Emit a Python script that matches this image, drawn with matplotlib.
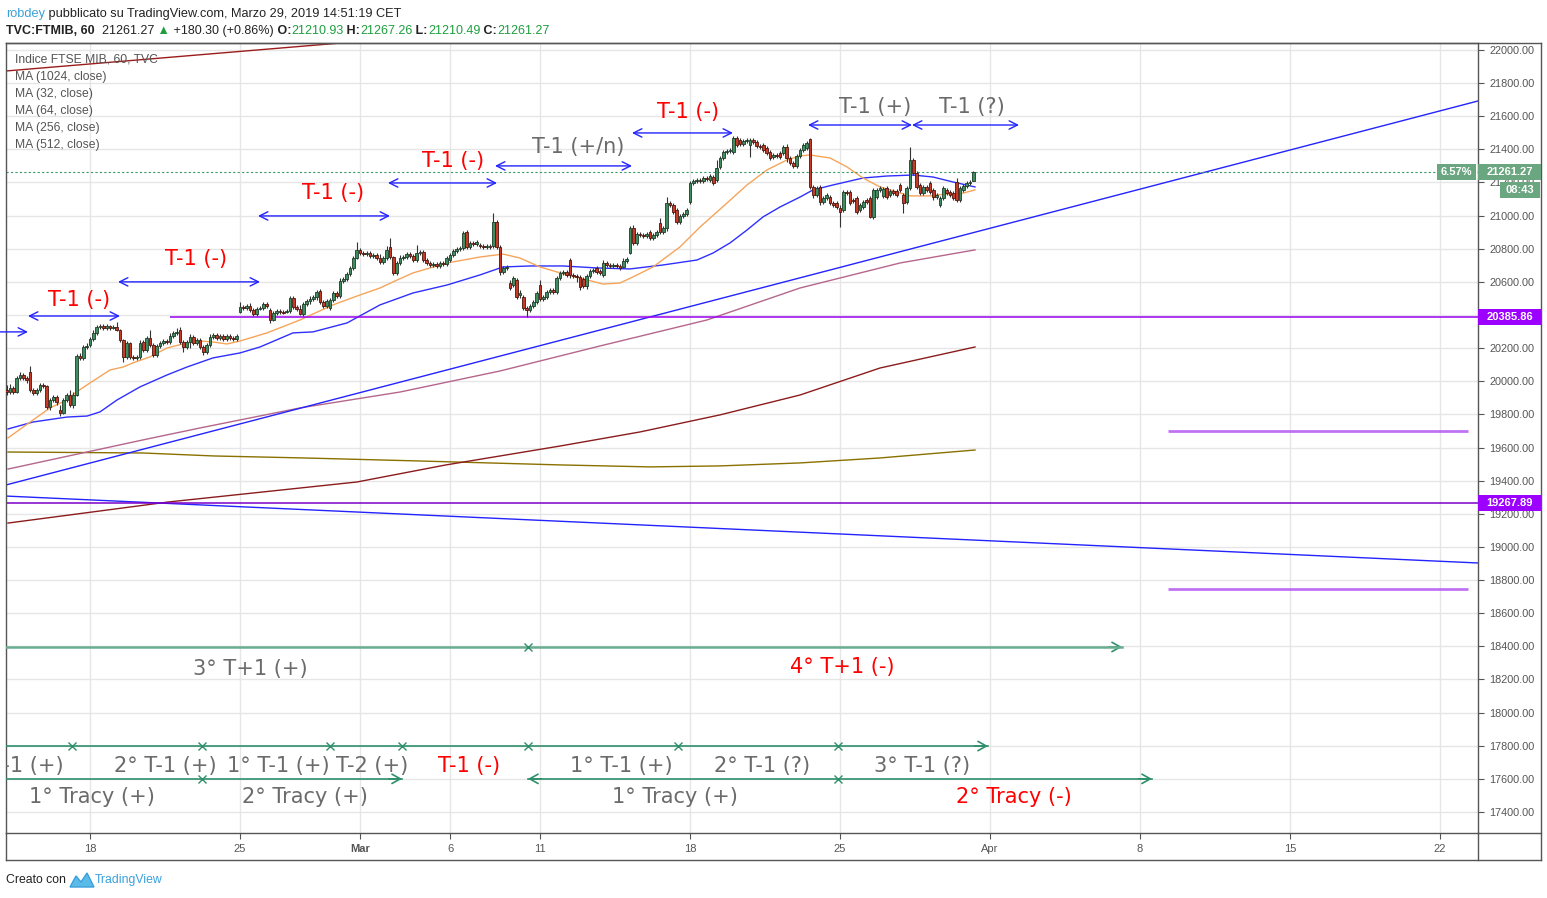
import numpy as np
import matplotlib.pyplot as plt
import matplotlib.transforms as mtransforms
from matplotlib.lines import Line2D
from matplotlib.patches import Rectangle, Polygon

# FTSE MIB 60 min bars, bar 0 = 18 Feb 09:00, 9 bars per session
first_bar = -25
bars_per_day = 9

bar_open = [
    19947, 19935, 19960, 19935, 20020, 20038, 20020,                 # Feb 13 (part)
    20056, 19947, 19929, 19947, 19978, 19972, 19845, 19887, 19905,   # Feb 14
    19827, 19809, 19887, 19917, 19857, 19917, 20153, 20141, 20207,   # Feb 15
    20219, 20255, 20292, 20328, 20334, 20322, 20334, 20322, 20328,   # Feb 18
    20310, 20249, 20147, 20231, 20147, 20141, 20147, 20237, 20189,   # Feb 19
    20261, 20219, 20159, 20213, 20231, 20243, 20237, 20274, 20292,   # Feb 20
    20310, 20237, 20207, 20237, 20267, 20231, 20249, 20207, 20177,   # Feb 21
    20219, 20267, 20280, 20261, 20274, 20255, 20274, 20261, 20255,   # Feb 22
    20418, 20449, 20443, 20455, 20430, 20406, 20437, 20443, 20467,   # Feb 25
    20430, 20370, 20412, 20424, 20418, 20418, 20424, 20503, 20449,   # Feb 26
    20437, 20406, 20467, 20485, 20497, 20509, 20545, 20479, 20455,   # Feb 27
    20443, 20491, 20533, 20515, 20606, 20618, 20648, 20684, 20744,   # Feb 28
    20793, 20774, 20768, 20774, 20756, 20762, 20744, 20720, 20744,   # Mar 1
    20811, 20750, 20654, 20714, 20744, 20750, 20768, 20756, 20732,   # Mar 4
    20774, 20781, 20732, 20714, 20702, 20708, 20696, 20714, 20708,   # Mar 5
    20732, 20762, 20787, 20799, 20805, 20901, 20811, 20835, 20829,   # Mar 6
    20823, 20817, 20811, 20817, 20817, 20962, 20811, 20660, 20684,   # Mar 7
    20593, 20581, 20612, 20521, 20509, 20443, 20430, 20455, 20479,   # Mar 8
    20581, 20497, 20509, 20539, 20551, 20539, 20624, 20654, 20660,   # Mar 11
    20732, 20642, 20636, 20630, 20618, 20575, 20636, 20666, 20684,   # Mar 12
    20666, 20642, 20714, 20702, 20696, 20702, 20696, 20690, 20726,   # Mar 13
    20774, 20925, 20835, 20889, 20883, 20877, 20901, 20865, 20883,   # Mar 14
    20956, 20901, 20925, 21076, 21064, 21034, 20962, 20998, 21010,   # Mar 15
    21082, 21197, 21209, 21215, 21209, 21227, 21215, 21233, 21215,   # Mar 18
    21294, 21348, 21384, 21390, 21384, 21469, 21457, 21433, 21451,   # Mar 19
    21426, 21457, 21445, 21420, 21426, 21408, 21384, 21354, 21366,   # Mar 20
    21378, 21378, 21414, 21348, 21318, 21300, 21360, 21396, 21408,   # Mar 21
    21463, 21173, 21125, 21173, 21082, 21106, 21112, 21076, 21076,   # Mar 22
    21046, 21034, 21143, 21143, 21094, 21106, 21034, 21052, 21094,   # Mar 25
    21106, 20992, 21112, 21155, 21119, 21167, 21125, 21149, 21149,   # Mar 26
    21185, 21125, 21082, 21167, 21336, 21257, 21185, 21137, 21173,   # Mar 27
    21197, 21155, 21112, 21064, 21106, 21155, 21143, 21137, 21203,   # Mar 28
    21094, 21155, 21179, 21197, 21210.93,                            # Mar 29
]
bar_close = [
    19935, 19960, 19935, 20020, 20038, 20020, 20008,
    19947, 19929, 19947, 19978, 19972, 19845, 19887, 19905, 19875,
    19809, 19887, 19917, 19857, 19917, 20153, 20141, 20207, 20213,
    20255, 20292, 20328, 20334, 20322, 20334, 20322, 20328, 20310,
    20249, 20147, 20231, 20147, 20141, 20147, 20231, 20189, 20261,
    20219, 20159, 20213, 20231, 20243, 20237, 20274, 20292, 20298,
    20237, 20207, 20237, 20267, 20231, 20249, 20207, 20177, 20219,
    20267, 20280, 20261, 20274, 20255, 20274, 20261, 20255, 20274,
    20449, 20443, 20455, 20430, 20406, 20437, 20443, 20467, 20455,
    20370, 20412, 20424, 20418, 20412, 20424, 20503, 20449, 20437,
    20406, 20467, 20485, 20497, 20509, 20539, 20479, 20455, 20485,
    20491, 20533, 20515, 20606, 20618, 20648, 20684, 20744, 20793,
    20774, 20768, 20774, 20756, 20762, 20744, 20720, 20744, 20793,
    20750, 20654, 20714, 20744, 20750, 20768, 20756, 20732, 20774,
    20781, 20732, 20714, 20702, 20708, 20696, 20714, 20708, 20744,
    20762, 20787, 20799, 20805, 20895, 20811, 20835, 20829, 20841,
    20817, 20811, 20817, 20811, 20962, 20811, 20660, 20684, 20690,
    20563, 20624, 20509, 20533, 20443, 20430, 20455, 20479, 20533,
    20497, 20509, 20539, 20551, 20539, 20624, 20654, 20660, 20642,
    20642, 20636, 20630, 20569, 20575, 20636, 20666, 20672, 20660,
    20654, 20714, 20702, 20696, 20702, 20696, 20684, 20726, 20738,
    20925, 20835, 20889, 20883, 20877, 20889, 20865, 20883, 20901,
    20901, 20925, 21076, 21064, 21022, 20962, 20998, 21010, 21034,
    21197, 21209, 21215, 21209, 21227, 21221, 21239, 21197, 21288,
    21348, 21384, 21390, 21396, 21469, 21426, 21433, 21451, 21457,
    21457, 21445, 21420, 21414, 21396, 21378, 21348, 21366, 21360,
    21354, 21414, 21348, 21318, 21300, 21360, 21396, 21426, 21439,
    21173, 21125, 21167, 21082, 21106, 21125, 21076, 21064, 21052,
    21022, 21143, 21137, 21076, 21088, 21022, 21064, 21082, 21082,
    20992, 21155, 21155, 21167, 21161, 21112, 21149, 21137, 21125,
    21155, 21076, 21167, 21336, 21257, 21173, 21137, 21173, 21155,
    21143, 21112, 21125, 21106, 21167, 21137, 21125, 21106, 21094,
    21167, 21179, 21197, 21203, 21261.27,
]
bar_high = [
    19978, 19984, 19972, 20032, 20056, 20050, 20032,
    20092, 19960, 19960, 19990, 19990, 19978, 19899, 19917, 19917,
    19857, 19899, 19929, 19947, 19935, 20165, 20171, 20219, 20231,
    20267, 20310, 20340, 20346, 20346, 20346, 20340, 20340, 20358,
    20316, 20255, 20243, 20237, 20159, 20159, 20249, 20249, 20274,
    20310, 20231, 20225, 20243, 20255, 20255, 20292, 20304, 20322,
    20328, 20249, 20249, 20286, 20280, 20261, 20261, 20219, 20231,
    20286, 20292, 20292, 20286, 20286, 20286, 20286, 20274, 20286,
    20479, 20461, 20467, 20473, 20443, 20449, 20455, 20479, 20479,
    20443, 20424, 20437, 20437, 20430, 20437, 20515, 20515, 20461,
    20461, 20479, 20497, 20515, 20521, 20551, 20557, 20491, 20497,
    20503, 20545, 20545, 20624, 20630, 20660, 20696, 20756, 20841,
    20805, 20787, 20787, 20787, 20774, 20774, 20768, 20756, 20817,
    20865, 20756, 20726, 20762, 20762, 20781, 20781, 20768, 20823,
    20793, 20793, 20744, 20726, 20720, 20720, 20726, 20726, 20756,
    20774, 20799, 20811, 20817, 20907, 20913, 20847, 20847, 20853,
    20835, 20829, 20829, 20829, 21016, 20974, 20823, 20696, 20702,
    20612, 20636, 20624, 20551, 20521, 20455, 20467, 20491, 20545,
    20612, 20521, 20551, 20563, 20563, 20636, 20666, 20672, 20672,
    20744, 20654, 20648, 20642, 20630, 20648, 20678, 20684, 20696,
    20678, 20732, 20726, 20714, 20714, 20714, 20708, 20744, 20750,
    20937, 20944, 20901, 20901, 20895, 20901, 20913, 20895, 20913,
    20986, 20937, 21112, 21088, 21076, 21046, 21010, 21022, 21046,
    21209, 21221, 21227, 21227, 21239, 21239, 21251, 21245, 21336,
    21360, 21396, 21402, 21408, 21481, 21481, 21469, 21463, 21469,
    21469, 21469, 21457, 21433, 21439, 21420, 21396, 21378, 21378,
    21390, 21426, 21433, 21360, 21330, 21372, 21408, 21439, 21451,
    21469, 21185, 21179, 21185, 21119, 21137, 21125, 21088, 21088,
    21064, 21155, 21155, 21155, 21106, 21119, 21076, 21094, 21106,
    21119, 21167, 21167, 21179, 21173, 21179, 21161, 21161, 21161,
    21197, 21137, 21179, 21414, 21348, 21270, 21197, 21185, 21185,
    21209, 21167, 21137, 21119, 21179, 21167, 21155, 21149, 21227,
    21179, 21191, 21209, 21215, 21267.26,
]
bar_low = [
    19917, 19923, 19923, 19929, 20008, 20008, 19990,
    19935, 19917, 19917, 19935, 19960, 19833, 19827, 19875, 19857,
    19790, 19803, 19875, 19845, 19839, 19911, 20129, 20129, 20195,
    20207, 20243, 20280, 20316, 20310, 20310, 20310, 20316, 20304,
    20237, 20117, 20135, 20135, 20129, 20129, 20135, 20177, 20177,
    20207, 20147, 20147, 20201, 20219, 20225, 20225, 20261, 20280,
    20225, 20177, 20195, 20201, 20219, 20219, 20195, 20159, 20165,
    20207, 20255, 20249, 20249, 20243, 20243, 20249, 20243, 20243,
    20412, 20430, 20430, 20418, 20394, 20394, 20430, 20430, 20443,
    20352, 20364, 20400, 20406, 20406, 20412, 20412, 20437, 20424,
    20400, 20394, 20455, 20467, 20485, 20491, 20467, 20443, 20443,
    20430, 20479, 20503, 20503, 20593, 20606, 20636, 20672, 20738,
    20762, 20756, 20756, 20744, 20744, 20732, 20708, 20708, 20732,
    20738, 20642, 20642, 20702, 20732, 20738, 20744, 20720, 20720,
    20762, 20720, 20702, 20690, 20690, 20684, 20684, 20696, 20696,
    20720, 20750, 20774, 20787, 20793, 20799, 20799, 20817, 20817,
    20805, 20799, 20799, 20799, 20805, 20799, 20642, 20648, 20672,
    20551, 20569, 20497, 20503, 20430, 20388, 20418, 20443, 20467,
    20485, 20485, 20497, 20527, 20527, 20527, 20612, 20642, 20630,
    20624, 20624, 20600, 20551, 20563, 20557, 20624, 20654, 20648,
    20642, 20630, 20690, 20684, 20684, 20684, 20672, 20684, 20714,
    20768, 20823, 20823, 20871, 20865, 20865, 20853, 20853, 20871,
    20889, 20889, 20907, 21052, 21010, 20950, 20950, 20986, 20998,
    21070, 21185, 21197, 21197, 21197, 21209, 21203, 21185, 21203,
    21282, 21336, 21372, 21378, 21372, 21414, 21420, 21420, 21439,
    21354, 21433, 21408, 21402, 21384, 21366, 21336, 21342, 21348,
    21342, 21366, 21324, 21306, 21288, 21288, 21348, 21384, 21396,
    21161, 21106, 21112, 21064, 21070, 21094, 21064, 21052, 21040,
    20931, 21022, 21125, 21064, 21076, 21010, 21022, 21040, 21070,
    20986, 20980, 21100, 21143, 21106, 21100, 21112, 21125, 21112,
    21143, 21016, 21070, 21155, 21245, 21161, 21125, 21125, 21143,
    21131, 21094, 21100, 21052, 21094, 21125, 21112, 21094, 21082,
    21082, 21143, 21167, 21185, 21210.49,
]

# moving averages (bar index, value)
ma32_k = [-24.6, -17.1, -12, -6.9, -4.5, 0, 6, 9.9, 12.9, 18, 23.1, 29.1, 33, 36.9, 41.1, 45,
          53.1, 63, 72.9, 81, 87, 90.9, 96.9, 107.1, 117, 123.9, 129, 135, 143.1, 149.1, 153.9,
          159, 162.9, 168.9, 177, 183, 191.1, 197.1, 203.1, 209.1, 213, 216, 222, 227.1, 231.9,
          237, 243, 246, 252, 257.1, 261, 265.5]
ma32_v = [19658, 19766, 19839, 19887, 19929, 19990, 20068, 20086, 20111, 20147, 20201, 20231,
          20243, 20237, 20225, 20243, 20292, 20370, 20461, 20521, 20563, 20600, 20654, 20714,
          20750, 20768, 20744, 20690, 20642, 20612, 20587, 20593, 20630, 20690, 20811, 20931,
          21076, 21185, 21276, 21336, 21360, 21366, 21348, 21294, 21227, 21173, 21137, 21119,
          21119, 21131, 21131, 21155]
ma64_k = [-24.6, -17.1, -6.9, -0.9, 3, 8.1, 15, 23.1, 29.1, 36.9, 45, 51, 60.9, 66.9, 77.1, 87,
          96.9, 107.1, 117, 123.9, 132, 141.9, 152.1, 162, 171.9, 182.1, 186.9, 192, 197.1,
          201.9, 207, 213, 216.9, 222.9, 231.9, 239.1, 246.9, 252.9, 258.9, 265.5]
ma64_v = [19712, 19754, 19784, 19790, 19815, 19887, 19966, 20038, 20086, 20141, 20171, 20207,
          20292, 20298, 20352, 20461, 20533, 20581, 20642, 20690, 20696, 20696, 20684, 20678,
          20702, 20732, 20774, 20835, 20913, 20992, 21052, 21112, 21155, 21185, 21227, 21239,
          21245, 21233, 21203, 21173]
ma256_k = [-24.6, 15.9, 33, 63, 93, 123, 153, 185.1, 213, 243, 265.5]
ma256_v = [19470, 19646, 19718, 19839, 19935, 20062, 20213, 20370, 20563, 20714, 20793]
ma512_k = [-24.6, 23.4, 80.1, 106.8, 141, 165, 189, 213, 237, 265.5]
ma512_v = [19144, 19271, 19392, 19495, 19609, 19694, 19797, 19917, 20080, 20207]
ma1024_k = [-24.6, 15.9, 37.2, 64.2, 98.4, 141, 168, 189, 213, 237, 265.5]
ma1024_v = [19573, 19567, 19549, 19537, 19519, 19495, 19483, 19489, 19507, 19537, 19585]

# drawings
trend_up = ([-25.2, 416.4], [19374, 21692])
trend_down = ([-25.2, 416.4], [19307, 18903])
trend_top = ([-30, 80], [21865, 22050])
level_hi, level_hi_from = 20385.86, 24
level_lo = 19267.89
short_levels, short_from, short_to = [19700, 18745], 323.4, 413.4
last_price = 21261.27

arrow_k0 = [-18.6, 8.4, 50.4, 89.4, 121.5, 162.6, 215.4, 246.6]
arrow_k1 = [9, 51, 90, 122.1, 162.6, 192.9, 246.6, 278.7]
arrow_p = [20394, 20600, 20998, 21197, 21300, 21499, 21547, 21547]
top_k = [-3.3, 31.8, 72.9, 108.9, 146.4, 179.4, 235.5, 264.6]
top_p = [20491, 20738, 21137, 21330, 21414, 21626, 21656, 21656]
top_txt = ["T-1 (-)", "T-1 (-)", "T-1 (-)", "T-1 (-)", "T-1 (+/n)", "T-1 (-)", "T-1 (+)", "T-1 (?)"]
top_red = [True, True, True, True, False, True, False, False]

row1_p, row2_p, row3_p = 18396, 17798, 17600
row1_marks, row1_end = [-30, 131.4], 309.6
row2_marks, row2_end = [-30, -5.4, 33.6, 72, 93.6, 131.4, 176.4, 224.4], 269.4
row3a_marks, row3a_end = [-30, 33.6], 93.6
row3b_start, row3b_marks, row3b_end = 131.4, [224.4], 318.6

low_k = [48, 225.6, 22.5, 56.4, 84.6, 113.7, 159.3, 201.6, 249.6, 0.6, 64.5, 175.5, 277.2]
low_p = [18263, 18275, 17677, 17677, 17677, 17677, 17677, 17677, 17677, 17490, 17490, 17490, 17490]
low_txt = ["3° T+1 (+)", "4° T+1 (-)", "2° T-1 (+)", "1° T-1 (+)", "T-2 (+)", "T-1 (-)",
           "1° T-1 (+)", "2° T-1 (?)", "3° T-1 (?)", "1° Tracy (+)", "2° Tracy (+)",
           "1° Tracy (+)", "2° Tracy (-)"]
low_red = [False, True, False, False, False, True, False, False, False, False, False, False, True]

tick_days = [0, 5, 9, 12, 15, 20, 25, 30, 35, 40, 45]
tick_labels = ["18", "25", "Mar", "6", "11", "18", "25", "Apr", "8", "15", "22"]

W, H = 1547, 898
fig = plt.figure(figsize=(W / 100, H / 100), dpi=100)
fig.patch.set_facecolor("white")


def fx(x):
    return x / W


def fy(y):
    return 1 - y / H


SANS = ["Liberation Sans", "DejaVu Sans"]
GRAY = "#6b6b6b"
RED = "#ff0000"
BLUE = "#2323ff"
GREEN = "#2f8f6c"
FRAME = "#555555"

ax = fig.add_axes([fx(6), fy(833), fx(1478) - fx(6), fy(43) - fy(833)])
ax.set_xlim(-25.2, 416.4)
ax.set_ylim(17273, 22042)
ax.set_axisbelow(True)
ax.grid(True, color="#e6e6e6", lw=1)
for sp in ax.spines.values():
    sp.set_color(FRAME)
    sp.set_linewidth(1)

yt = np.arange(17400, 22001, 200)
ax.yaxis.tick_right()
ax.set_yticks(yt)
ax.set_yticklabels([f"{v:.2f}" for v in yt])
ax.set_xticks([d * bars_per_day for d in tick_days])
ax.set_xticklabels(tick_labels)
ax.tick_params(axis="y", length=4, color=FRAME, labelsize=7.8, labelcolor="#555555", pad=4)
ax.tick_params(axis="x", length=4, color=FRAME, labelsize=8, labelcolor="#555555", pad=4)
for lab in ax.get_yticklabels() + ax.get_xticklabels():
    lab.set_family(SANS)
ax.get_xticklabels()[2].set_fontweight("bold")

# moving averages
ax.plot(ma1024_k, ma1024_v, color="#8a7000", lw=1, zorder=2)
ax.plot(ma512_k, ma512_v, color="#8b1c1c", lw=1, zorder=2)
ax.plot(ma256_k, ma256_v, color="#b5668c", lw=1, zorder=2)
ax.plot(ma64_k, ma64_v, color="#2f2fff", lw=1, zorder=2)
ax.plot(ma32_k, ma32_v, color="#f5a55a", lw=1, zorder=2)

# trend lines and levels
ax.plot(*trend_up, color=BLUE, lw=1, zorder=2)
ax.plot(*trend_down, color=BLUE, lw=1, zorder=2)
ax.plot(*trend_top, color="#9b1c1c", lw=1, zorder=2)
ax.hlines(level_hi, level_hi_from, 416.4, color="#9a00f0", lw=1.1, zorder=2)
ax.axhline(level_lo, color="#7b00c8", lw=1.1, zorder=2)
ax.hlines(short_levels, short_from, short_to, color="#b050f0", lw=2, alpha=0.8, zorder=2)
ax.axhline(last_price, color="#3a9a6a", lw=0.8, ls=(0, (2, 2)), zorder=2)

# candles
k = np.arange(len(bar_close)) + first_bar
o = np.array(bar_open, float)
c = np.array(bar_close, float)
hi = np.array(bar_high, float)
lo = np.array(bar_low, float)
up = c >= o
body_lo = np.minimum(o, c)
body_h = np.maximum(np.abs(c - o), 4)
ax.vlines(k, lo, hi, color="#333333", lw=0.8, zorder=3)
ax.bar(k[up], body_h[up], bottom=body_lo[up], width=0.72, color="#3f8d5f",
       edgecolor="#1d3b29", lw=0.6, zorder=4)
ax.bar(k[~up], body_h[~up], bottom=body_lo[~up], width=0.72, color="#c63a28",
       edgecolor="#4a160e", lw=0.6, zorder=4)

# blue range arrows with labels
ax.annotate("", xy=(-18.6, 20298), xytext=(-30, 20298),
            arrowprops=dict(arrowstyle="->,head_length=0.5,head_width=0.25", color=BLUE, lw=1,
                            shrinkA=0, shrinkB=0, mutation_scale=12))
for a, b, p in zip(arrow_k0, arrow_k1, arrow_p):
    ax.annotate("", xy=(b, p), xytext=(a, p),
                arrowprops=dict(arrowstyle="<->,head_length=0.5,head_width=0.25", color=BLUE, lw=1,
                                shrinkA=0, shrinkB=0, mutation_scale=12), zorder=5)
for kk, p, s, r in zip(top_k, top_p, top_txt, top_red):
    ax.text(kk, p, s, ha="center", va="center", fontsize=15, color=RED if r else GRAY,
            family="DejaVu Sans", zorder=6)

# green paths at the bottom
arrow_g = dict(arrowstyle="->,head_length=0.5,head_width=0.28", color=GREEN, lw=1.2,
               shrinkA=0, shrinkB=0, mutation_scale=12)


def green_path(marks, price, end, lw=1.2, color=GREEN):
    ax.plot(list(marks) + [end], [price] * (len(marks) + 1), color=color, lw=lw, zorder=5)
    ax.plot(marks, [price] * len(marks), ls="none", marker="x", ms=6, mew=1, color=GREEN, zorder=5)
    ax.annotate("", xy=(end, price), xytext=(end - 4, price), arrowprops=arrow_g)


green_path(row1_marks, row1_p, row1_end, lw=1.8, color="#6aae92")
green_path(row2_marks, row2_p, row2_end)
green_path(row3a_marks, row3_p, row3a_end)
ax.plot([row3b_start, row3b_end], [row3_p, row3_p], color=GREEN, lw=1.2, zorder=5)
ax.plot(row3b_marks, [row3_p] * len(row3b_marks), ls="none", marker="x", ms=6, mew=1, color=GREEN, zorder=5)
ax.annotate("", xy=(row3b_end, row3_p), xytext=(row3b_end - 4, row3_p), arrowprops=arrow_g)
ax.annotate("", xy=(row3b_start, row3_p), xytext=(row3b_start + 4, row3_p), arrowprops=arrow_g)

ax.text(-7.8, 17677, "1° T-1 (+)", ha="right", va="center", fontsize=15, color=GRAY,
        family="DejaVu Sans", clip_on=True, zorder=6)
for kk, p, s, r in zip(low_k, low_p, low_txt, low_red):
    ax.text(kk, p, s, ha="center", va="center", fontsize=15, color=RED if r else GRAY,
            family="DejaVu Sans", zorder=6)

# outer frame of price and time scales
for xs, ys in [((6, 1541), (43, 43)), ((6, 1541), (860, 860)), ((1541, 1541), (43, 860)),
               ((6, 6), (833, 860)), ((1478, 1478), (833, 860)), ((1478, 1541), (833, 833))]:
    fig.add_artist(Line2D([fx(xs[0]), fx(xs[1])], [fy(ys[0]), fy(ys[1])],
                          transform=fig.transFigure, color=FRAME, lw=1))

# price labels on the scale
trans = mtransforms.blended_transform_factory(fig.transFigure, ax.transData)
ppx = (22042 - 17273) / 790.0


def price_box(x0, x1, price, text, color):
    fig.add_artist(Rectangle((fx(x0), price - 8 * ppx), fx(x1) - fx(x0), 16 * ppx, transform=trans,
                             facecolor=color, edgecolor="none", zorder=5))
    fig.text(fx((x0 + x1) / 2), price, text, transform=trans, ha="center", va="center",
             color="white", fontsize=8, fontweight="bold", family=SANS, zorder=6)


box_green = "#6aa680"
price_box(1478, 1541, last_price, f"{last_price:.2f}", box_green)
price_box(1437, 1476, last_price, "6.57%", box_green)
price_box(1500, 1540, last_price - 18 * ppx, "08:43", box_green)
price_box(1478, 1541, level_hi, f"{level_hi:.2f}", "#9c00ff")
price_box(1478, 1541, level_lo, f"{level_lo:.2f}", "#9c00ff")

# legend of the studies
for y, s in zip([60, 77, 94, 111, 128, 145],
                ["Indice FTSE MIB, 60, TVC", "MA (1024, close)", "MA (32, close)",
                 "MA (64, close)", "MA (256, close)", "MA (512, close)"]):
    fig.text(fx(15), fy(y), s, va="center", ha="left", fontsize=8.7, color="#555555", family=SANS)

# header lines
ov = fig.add_axes([0, 0, 1, 1], zorder=-1)
ov.set_axis_off()


def chain(x, y, pieces, size):
    t = None
    for s, col, wt in pieces:
        kw = dict(color=col, fontweight=wt, fontsize=size, family=SANS, va="bottom", ha="left",
                  annotation_clip=False)
        if t is None:
            t = ov.annotate(s, xy=(fx(x), fy(y)), xycoords="figure fraction", **kw)
        else:
            t = ov.annotate(s, xy=(1, 0), xycoords=t, **kw)


val_green = "#1e9e3e"
chain(6, 20, [("robdey", "#3aa0dc", "normal"),
              (" pubblicato su TradingView.com, Marzo 29, 2019 14:51:19 CET", "#222222", "normal")], 9.2)
chain(6, 37, [("TVC:FTMIB, 60", "#222222", "bold"), ("  21261.27", "#222222", "normal"),
              (" ▲", val_green, "normal"), (" +180.30 (+0.86%)", "#222222", "normal"),
              (" O:", "#222222", "bold"), ("21210.93", val_green, "normal"),
              (" H:", "#222222", "bold"), ("21267.26", val_green, "normal"),
              (" L:", "#222222", "bold"), ("21210.49", val_green, "normal"),
              (" C:", "#222222", "bold"), ("21261.27", val_green, "normal")], 9.0)

# footer
fig.text(fx(6), fy(880), "Creato con", va="center", ha="left", fontsize=8.8, color="#222222", family=SANS)
fig.add_artist(Polygon([(fx(70), fy(887)), (fx(76), fy(876)), (fx(81), fy(882)), (fx(87), fy(873)),
                        (fx(94), fy(887))], closed=True, transform=fig.transFigure,
                       facecolor="#5bbbe8", edgecolor="#3aa0dc", lw=1))
fig.text(fx(95), fy(880), "TradingView", va="center", ha="left", fontsize=8.8, color="#3aa0dc", family=SANS)

fig.savefig("out.png", dpi=100)
